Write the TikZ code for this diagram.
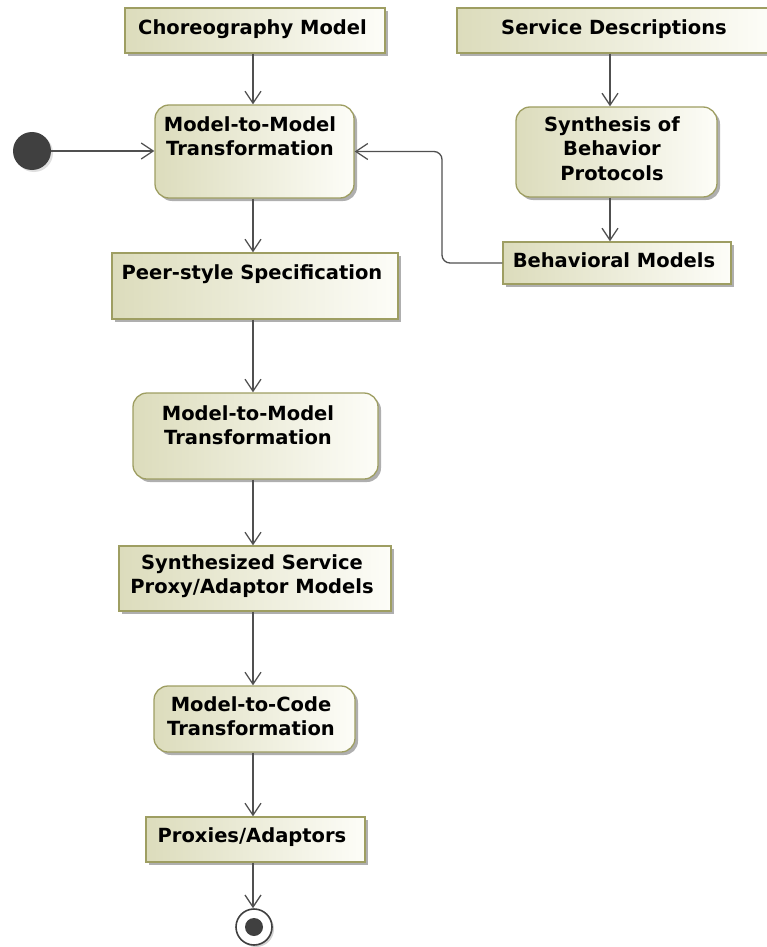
\documentclass[tikz,border=0pt]{standalone}
\usepackage{fontspec}
\setmainfont{DejaVu Sans}
\usetikzlibrary{arrows.meta,shadows}
\definecolor{boxl}{RGB}{220,220,188}
\definecolor{boxr}{RGB}{253,253,248}
\definecolor{boxb}{RGB}{158,158,98}
\definecolor{linec}{RGB}{80,80,80}
\definecolor{initc}{RGB}{64,64,64}
\tikzset{
  obj/.style={rectangle, draw=boxb, line width=1.3pt, left color=boxl, right color=boxr,
    drop shadow={shadow xshift=3pt, shadow yshift=-3pt, fill=black!35, opacity=0.9}, inner sep=0pt},
  act/.style={obj, rounded corners=14pt},
  lbl/.style={font=\fontsize{19.5}{24.5}\selectfont\bfseries, align=center, inner sep=0pt, text=black},
  arr/.style={draw=linec, line width=1.3pt, -{Straight Barb[length=12pt, width=16pt, line width=1.3pt]}},
}
\begin{document}
\begin{tikzpicture}[x=1pt, y=-1pt]
\useasboundingbox (0,0) rectangle (767,947);
% left column boxes
\node[obj, minimum width=260pt, minimum height=45pt] (cm) at (255,30.5) {};
\node[act, minimum width=199pt, minimum height=93pt] (m1) at (254.5,151.5) {};
\node[obj, minimum width=286pt, minimum height=66pt] (peer) at (255,286) {};
\node[act, minimum width=245pt, minimum height=86pt] (m2) at (255.5,436) {};
\node[obj, minimum width=272pt, minimum height=65pt] (syn) at (255,578.5) {};
\node[act, minimum width=201pt, minimum height=66pt] (mtc) at (254.5,719) {};
\node[obj, minimum width=219pt, minimum height=45pt] (prox) at (255.5,839.5) {};
% right column boxes
\node[obj, minimum width=314pt, minimum height=45pt] (sd) at (614,30.5) {};
\node[act, minimum width=201pt, minimum height=90pt] (sb) at (616.5,152) {};
\node[obj, minimum width=228pt, minimum height=42pt] (bm) at (617,263) {};
% initial / final
\node[circle, fill=initc, minimum size=38pt, inner sep=0pt,
  drop shadow={shadow xshift=2pt, shadow yshift=-2pt, fill=black!25}] (init) at (32,151) {};
\node[circle, draw=initc, line width=1.6pt, fill=white, minimum size=36pt, inner sep=0pt,
  drop shadow={shadow xshift=2pt, shadow yshift=-2pt, fill=black!35}] (fin) at (254,927) {};
\node[circle, fill=initc, minimum size=18pt, inner sep=0pt] (findot) at (fin.center) {};
% labels
\node[lbl] (cmt) at (252.5,29) {Choreography Model};
\node[lbl] (m1t) at (250,136) {Model-to-Model\\Transformation};
\node[lbl] (peert) at (252,274) {Peer-style Specification};
\node[lbl] (m2t) at (248,425) {Model-to-Model\\Transformation};
\node[lbl] (synt) at (252,576) {Synthesized Service\\Proxy/Adaptor Models};
\node[lbl] (mtct) at (251,716) {Model-to-Code\\Transformation};
\node[lbl] (proxt) at (252,837) {Proxies/Adaptors};
\node[lbl] (sdt) at (614,29) {Service Descriptions};
\node[lbl] (sbt) at (612,148.5) {Synthesis of\\Behavior\\Protocols};
\node[lbl] (bmt) at (614,260) {Behavioral Models};
% connectors
\coordinate (ax) at (253,0);
\coordinate (bx) at (610,0);
\coordinate (bend) at (442,0);
\draw[arr] (cm.south -| ax) -- (m1.north -| ax);
\draw[arr] (m1.south -| ax) -- (peer.north -| ax);
\draw[arr] (peer.south -| ax) -- (m2.north -| ax);
\draw[arr] (m2.south -| ax) -- (syn.north -| ax);
\draw[arr] (syn.south -| ax) -- (mtc.north -| ax);
\draw[arr] (mtc.south -| ax) -- (prox.north -| ax);
\draw[arr] (prox.south -| ax) -- (fin.north -| ax);
\draw[arr] (init.east) -- (init.east -| m1.west);
\draw[arr] (sd.south -| bx) -- (sb.north -| bx);
\draw[arr] (sb.south -| bx) -- (bm.north -| bx);
\draw[arr, rounded corners=8pt] (bm.west) -| (bend |- m1.east) -- (m1.east);
\end{tikzpicture}
\end{document}
